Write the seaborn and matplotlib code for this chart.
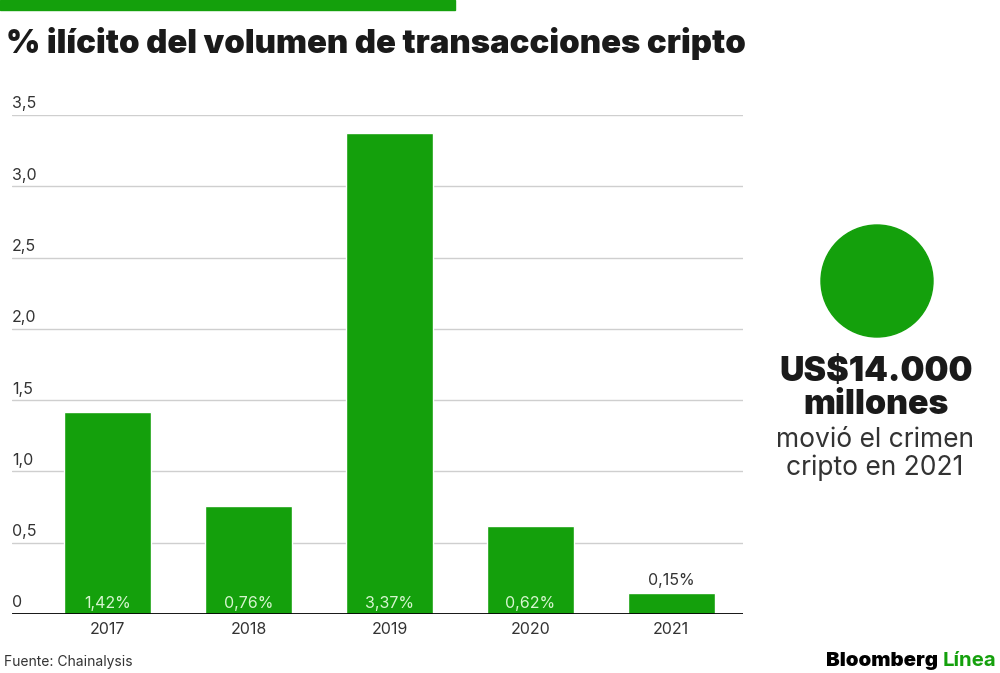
import matplotlib
matplotlib.use("Agg")
import matplotlib.pyplot as plt
import seaborn as sns
import pandas as pd
from matplotlib.patches import Rectangle, Ellipse

# Chart data
years = ["2017", "2018", "2019", "2020", "2021"]
illicit_pct = [1.42, 0.76, 3.37, 0.62, 0.15]
value_labels = ["1,42%", "0,76%", "3,37%", "0,62%", "0,15%"]
y_ticks = [0, 0.5, 1.0, 1.5, 2.0, 2.5, 3.0, 3.5]
y_tick_labels = ["0", "0,5", "1,0", "1,5", "2,0", "2,5", "3,0", "3,5"]

GREEN = "#14a00c"
DARK = "#1a1a1a"
GREY = "#333333"

sns.set_theme(style="white")
plt.rcParams["font.family"] = ["Inter", "DejaVu Sans"]

df = pd.DataFrame({"year": years, "pct": illicit_pct})

fig = plt.figure(figsize=(10, 6.73), dpi=100)
ax = fig.add_axes([0.012, 0.0877, 0.731, 0.7415])

sns.barplot(data=df, x="year", y="pct", color=GREEN, width=0.62,
            saturation=1, ax=ax)

ax.set_ylim(0, 3.5)
ax.set_xlim(-0.68, 4.51)
ax.set_xlabel("")
ax.set_ylabel("")
sns.despine(ax=ax, left=True, bottom=True, top=True, right=True)

# gridlines with labels sitting on top of them
ax.set_yticks([])
for t, lab in zip(y_ticks, y_tick_labels):
    if t > 0:
        ax.axhline(t, color="#cfcfcf", lw=1, zorder=0)
    ax.text(0.0, t + 0.025, lab, transform=ax.get_yaxis_transform(),
            ha="left", va="bottom", fontsize=11.5, color=GREY)
ax.axhline(0, color="black", lw=2, zorder=3)

ax.tick_params(axis="x", length=0, pad=6, labelsize=11.5, labelcolor=GREY)

# value labels
for i, (v, lab) in enumerate(zip(illicit_pct, value_labels)):
    if v > 0.3:
        ax.text(i, 0.02, lab, ha="center", va="bottom", fontsize=11.5,
                color="#d6f5cf")
    else:
        ax.text(i, v + 0.03, lab, ha="center", va="bottom", fontsize=11.5,
                color=GREY)

# top green bar and title
fig.patches.append(Rectangle((0, 1 - 10 / 673), 0.455, 10 / 673,
                             transform=fig.transFigure, color=GREEN))
fig.text(0.006, 1 - 43 / 673, "% ilícito del volumen de transacciones cripto",
         fontsize=23.7, fontweight=900, color=DARK, ha="left", va="center")

# right annotation
fig.patches.append(Ellipse((0.877, 1 - 281 / 673), 0.112, 0.112 * 1000 / 673,
                           transform=fig.transFigure, color=GREEN))
fig.text(0.876, 1 - 372 / 673, "US$14.000", fontsize=24.4, fontweight=900,
         color=DARK, ha="center", va="center")
fig.text(0.876, 1 - 405 / 673, "millones", fontsize=24.4, fontweight=900,
         color=DARK, ha="center", va="center")
fig.text(0.875, 1 - 440 / 673, "movió el crimen", fontsize=19,
         color=GREY, ha="center", va="center")
fig.text(0.875, 1 - 468 / 673, "cripto en 2021", fontsize=19,
         color=GREY, ha="center", va="center")

# footer
fig.text(0.004, 1 - 662 / 673, "Fuente: Chainalysis", fontsize=10,
         color=GREY, ha="left", va="center")
fig.text(0.943, 1 - 661 / 673, "Línea", fontsize=14.7, fontweight="bold",
         color=GREEN, ha="left", va="center")
fig.text(0.938, 1 - 661 / 673, "Bloomberg", fontsize=14.7, fontweight=900,
         color="black", ha="right", va="center")

fig.savefig("out.png", dpi=100)
